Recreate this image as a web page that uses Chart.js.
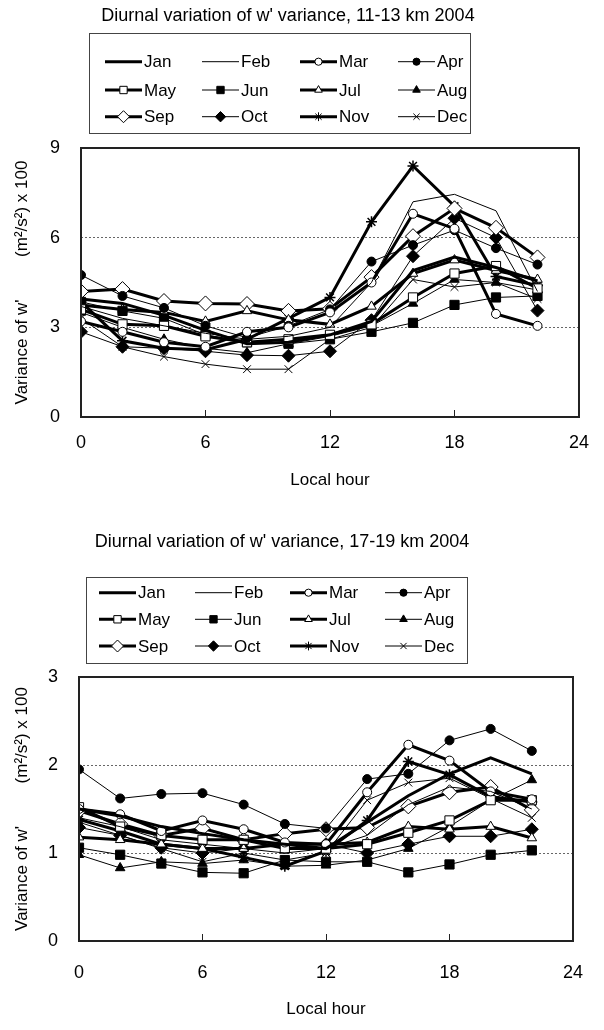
<!DOCTYPE html>
<html>
<head>
<meta charset="utf-8">
<script src="https://cdn.jsdelivr.net/npm/chart.js@4.4.1/dist/chart.umd.min.js"></script>
<style>
  body { margin: 0; background: #fff; }
  .wrap { position: relative; width: 604px; height: 515px; }
  canvas { display: block; }
</style>
</head>
<body>
<div class="wrap"><canvas id="upper" width="604" height="515" style="width:604px;height:515px"></canvas></div>
<div class="wrap"><canvas id="lower" width="604" height="515" style="width:604px;height:515px"></canvas></div>
<script>
// local hour of each sample
const hours = [0, 2, 4, 6, 8, 10, 12, 14, 16, 18, 20, 22];
const months = ['Jan', 'Feb', 'Mar', 'Apr', 'May', 'Jun', 'Jul', 'Aug', 'Sep', 'Oct', 'Nov', 'Dec'];

// 11-13 km, variance of w' (m2/s2) x 100
const jan11 = [3.95, 3.8, 3.4, 2.9, 2.45, 2.5, 2.75, 3.2, 4.9, 5.35, 5.0, 4.55];
const feb11 = [3.7, 3.3, 3.05, 2.8, 2.6, 2.7, 3.0, 4.5, 7.2, 7.45, 6.9, 4.2];
const mar11 = [3.2, 2.85, 2.5, 2.35, 2.85, 3.0, 3.5, 4.5, 6.8, 6.3, 3.45, 3.05];
const apr11 = [4.75, 4.05, 3.65, 3.05, 2.65, 3.05, 3.6, 5.2, 5.75, 6.25, 5.65, 5.1];
const may11 = [3.6, 3.1, 3.05, 2.7, 2.5, 2.6, 2.75, 3.1, 4.0, 4.8, 5.05, 4.3];
const jun11 = [3.85, 3.55, 3.3, 2.75, 2.5, 2.45, 2.6, 2.85, 3.15, 3.75, 4.0, 4.05];
const jul11 = [3.75, 3.6, 3.5, 3.2, 3.55, 3.25, 3.1, 3.7, 4.8, 5.25, 4.9, 4.6];
const aug11 = [3.5, 3.0, 2.6, 2.3, 2.15, 2.45, 2.7, 3.05, 3.8, 4.6, 4.5, 4.25];
const sep11 = [4.2, 4.28, 3.88, 3.8, 3.78, 3.55, 3.62, 4.68, 6.05, 6.98, 6.33, 5.34];
const oct11 = [2.85, 2.35, 2.3, 2.2, 2.07, 2.05, 2.2, 3.24, 5.38, 6.65, 6.0, 3.56];
const nov11 = [3.85, 2.55, 2.3, 2.25, 2.6, 3.3, 4.0, 6.53, 8.4, 7.05, 4.7, 4.4];
const dec11 = [3.3, 2.35, 2.02, 1.77, 1.6, 1.6, 2.6, 3.0, 4.6, 4.35, 4.5, 3.95];

// 17-19 km
const jan17 = [1.5, 1.42, 1.3, 1.22, 1.15, 1.1, 1.05, 1.35, 1.65, 1.9, 2.08, 1.9];
const feb17 = [1.4, 1.3, 1.15, 1.1, 1.05, 1.0, 1.05, 1.2, 1.55, 1.75, 1.7, 1.5];
const mar17 = [1.5, 1.44, 1.25, 1.37, 1.27, 1.12, 1.1, 1.69, 2.23, 2.05, 1.7, 1.61];
const apr17 = [1.95, 1.62, 1.67, 1.68, 1.55, 1.33, 1.28, 1.84, 1.9, 2.28, 2.41, 2.16];
const may17 = [1.52, 1.3, 1.2, 1.15, 1.15, 1.05, 1.05, 1.1, 1.23, 1.37, 1.6, 1.6];
const jun17 = [1.06, 0.98, 0.88, 0.78, 0.77, 0.92, 0.9, 0.9, 0.78, 0.87, 0.98, 1.03];
const jul17 = [1.18, 1.15, 1.1, 1.05, 1.05, 1.1, 1.1, 1.12, 1.3, 1.27, 1.3, 1.17];
const aug17 = [0.98, 0.83, 0.9, 0.88, 0.92, 0.85, 0.86, 0.92, 1.05, 1.3, 1.6, 1.83];
const sep17 = [1.48, 1.33, 1.2, 1.28, 1.15, 1.22, 1.27, 1.29, 1.53, 1.69, 1.75, 1.49];
const oct17 = [1.29, 1.2, 1.06, 1.0, 1.05, 1.1, 1.1, 1.0, 1.1, 1.19, 1.19, 1.27];
const nov17 = [1.38, 1.25, 1.1, 1.05, 0.95, 0.85, 1.02, 1.37, 2.04, 1.89, 1.64, 1.58];
const dec17 = [1.35, 1.2, 1.05, 0.9, 1.0, 0.92, 1.0, 1.6, 1.8, 1.85, 1.62, 1.4];

const FONT = '"Liberation Sans", Arial, Helvetica, sans-serif';
Chart.defaults.font.family = FONT;
Chart.defaults.color = '#000';

// line width, marker style, marker fill, marker radius for each month
const looks = [
  { w: 3, ps: 'circle', fill: '#000', r: 0 },
  { w: 1, ps: 'circle', fill: '#000', r: 0 },
  { w: 3, ps: 'circle', fill: '#fff', r: 4.5 },
  { w: 1, ps: 'circle', fill: '#000', r: 4.5 },
  { w: 3, ps: 'rect', fill: '#fff', r: 6.5 },
  { w: 1, ps: 'rect', fill: '#000', r: 6.5 },
  { w: 3, ps: 'triangle', fill: '#fff', r: 5.5 },
  { w: 1, ps: 'triangle', fill: '#000', r: 5.5 },
  { w: 3, ps: 'rectRot', fill: '#fff', r: 7.5 },
  { w: 1, ps: 'rectRot', fill: '#000', r: 6.5 },
  { w: 3, ps: 'star', fill: '#000', r: 5.5 },
  { w: 1, ps: 'crossRot', fill: '#000', r: 5.5 }
];

function makeSets(series) {
  return series.map((vals, i) => ({
    label: months[i],
    data: hours.map((h, k) => ({ x: h, y: vals[k] })),
    borderColor: '#000',
    borderWidth: looks[i].w,
    pointStyle: looks[i].ps,
    pointRadius: looks[i].r,
    pointBackgroundColor: looks[i].fill,
    pointBorderColor: '#000',
    pointBorderWidth: looks[i].ps === 'star' ? 1.5 : 1,
    tension: 0,
    fill: false
  }));
}

// title, boxed legend, plot frame and inner ticks
const decor = {
  id: 'decor',
  afterDatasetsDraw(chart, args, o) {
    const { ctx, chartArea: a } = chart;
    const xs = chart.scales.x;
    ctx.save();
    ctx.setLineDash([]);
    ctx.strokeStyle = '#222';
    ctx.lineWidth = 2;
    ctx.strokeRect(a.left, a.top, a.right - a.left, a.bottom - a.top);
    ctx.lineWidth = 1;
    [6, 12, 18].forEach(v => {
      const px = Math.round(xs.getPixelForValue(v)) + 0.5;
      ctx.beginPath();
      ctx.moveTo(px, a.bottom);
      ctx.lineTo(px, a.bottom - 7);
      ctx.stroke();
    });
    ctx.restore();
  },
  afterDraw(chart, args, o) {
    const ctx = chart.ctx;
    ctx.save();
    ctx.fillStyle = '#000';
    ctx.textAlign = 'center';
    ctx.textBaseline = 'middle';
    ctx.font = '18px ' + FONT;
    ctx.fillText(o.title, o.titleX, o.titleY);

    ctx.strokeStyle = '#444';
    ctx.lineWidth = 1;
    ctx.strokeRect(o.box[0] + 0.5, o.box[1] + 0.5, o.box[2], o.box[3]);
    ctx.font = '17px ' + FONT;
    ctx.textAlign = 'left';
    chart.data.datasets.forEach((ds, i) => {
      const x0 = o.cols[i % 4];
      const y0 = o.rows[Math.floor(i / 4)];
      ctx.strokeStyle = '#000';
      ctx.lineWidth = ds.borderWidth;
      ctx.beginPath();
      ctx.moveTo(x0, y0);
      ctx.lineTo(x0 + o.len, y0);
      ctx.stroke();
      if (ds.pointRadius > 0) {
        ctx.fillStyle = ds.pointBackgroundColor;
        ctx.lineWidth = 1;
        Chart.helpers.drawPoint(ctx, {
          pointStyle: ds.pointStyle,
          radius: ds.pointRadius * 0.8,
          rotation: 0,
          borderWidth: 1
        }, x0 + o.len / 2, y0);
      }
      ctx.fillStyle = '#000';
      ctx.fillText(ds.label, x0 + o.len + 2, y0 + 1);
    });
    ctx.restore();
  }
};

function build(id, series, yMax, layout) {
  return new Chart(document.getElementById(id), {
    type: 'line',
    data: { datasets: makeSets(series) },
    plugins: [decor],
    options: {
      responsive: false,
      animation: false,
      layout: { padding: { top: layout.top, right: layout.right, bottom: 0, left: 0 } },
      plugins: {
        legend: { display: false },
        title: { display: false },
        tooltip: { enabled: false },
        decor: layout.decor
      },
      scales: {
        x: {
          type: 'linear',
          min: 0,
          max: 24,
          ticks: { stepSize: 6, padding: layout.xPad, font: { size: 18 } },
          grid: { display: false, drawTicks: false },
          border: { display: false },
          title: {
            display: true,
            text: 'Local hour',
            font: { size: 17 },
            padding: { top: 0, bottom: layout.xTitlePad }
          },
          afterFit(s) { s.height = layout.xHeight; }
        },
        y: {
          min: 0,
          max: yMax,
          ticks: { stepSize: yMax / 3, padding: 21, font: { size: 18 } },
          grid: {
            drawTicks: false,
            lineWidth: 1,
            color: c => (c.tick && (c.tick.value === 0 || c.tick.value === yMax)) ? 'rgba(0,0,0,0)' : '#666'
          },
          border: { display: false, dash: [2, 2] },
          title: {
            display: true,
            text: "Variance of w'         (m²/s²) x 100",
            font: { size: 17 },
            padding: { top: 12, bottom: 0 }
          },
          afterFit(s) { s.width = layout.yWidth; }
        }
      }
    }
  });
}

build('upper', [jan11, feb11, mar11, apr11, may11, jun11, jul11, aug11, sep11, oct11, nov11, dec11], 9, {
  top: 148, right: 14, yWidth: 81, xHeight: 98, xPad: 15, xTitlePad: 24,
  decor: {
    title: "Diurnal variation of w' variance, 11-13 km 2004",
    titleX: 288, titleY: 16,
    box: [89, 33, 381, 100],
    rows: [61.7, 90, 116.7],
    cols: [105, 202, 300, 398],
    len: 37
  }
});

build('lower', [jan17, feb17, mar17, apr17, may17, jun17, jul17, aug17, sep17, oct17, nov17, dec17], 3, {
  top: 162, right: 23, yWidth: 79, xHeight: 89, xPad: 21, xTitlePad: 10,
  decor: {
    title: "Diurnal variation of w' variance, 17-19 km 2004",
    titleX: 282, titleY: 27,
    box: [86, 62, 381, 86],
    rows: [77.7, 104.3, 131],
    cols: [99, 195, 290, 385],
    len: 37
  }
});
</script>
</body>
</html>
